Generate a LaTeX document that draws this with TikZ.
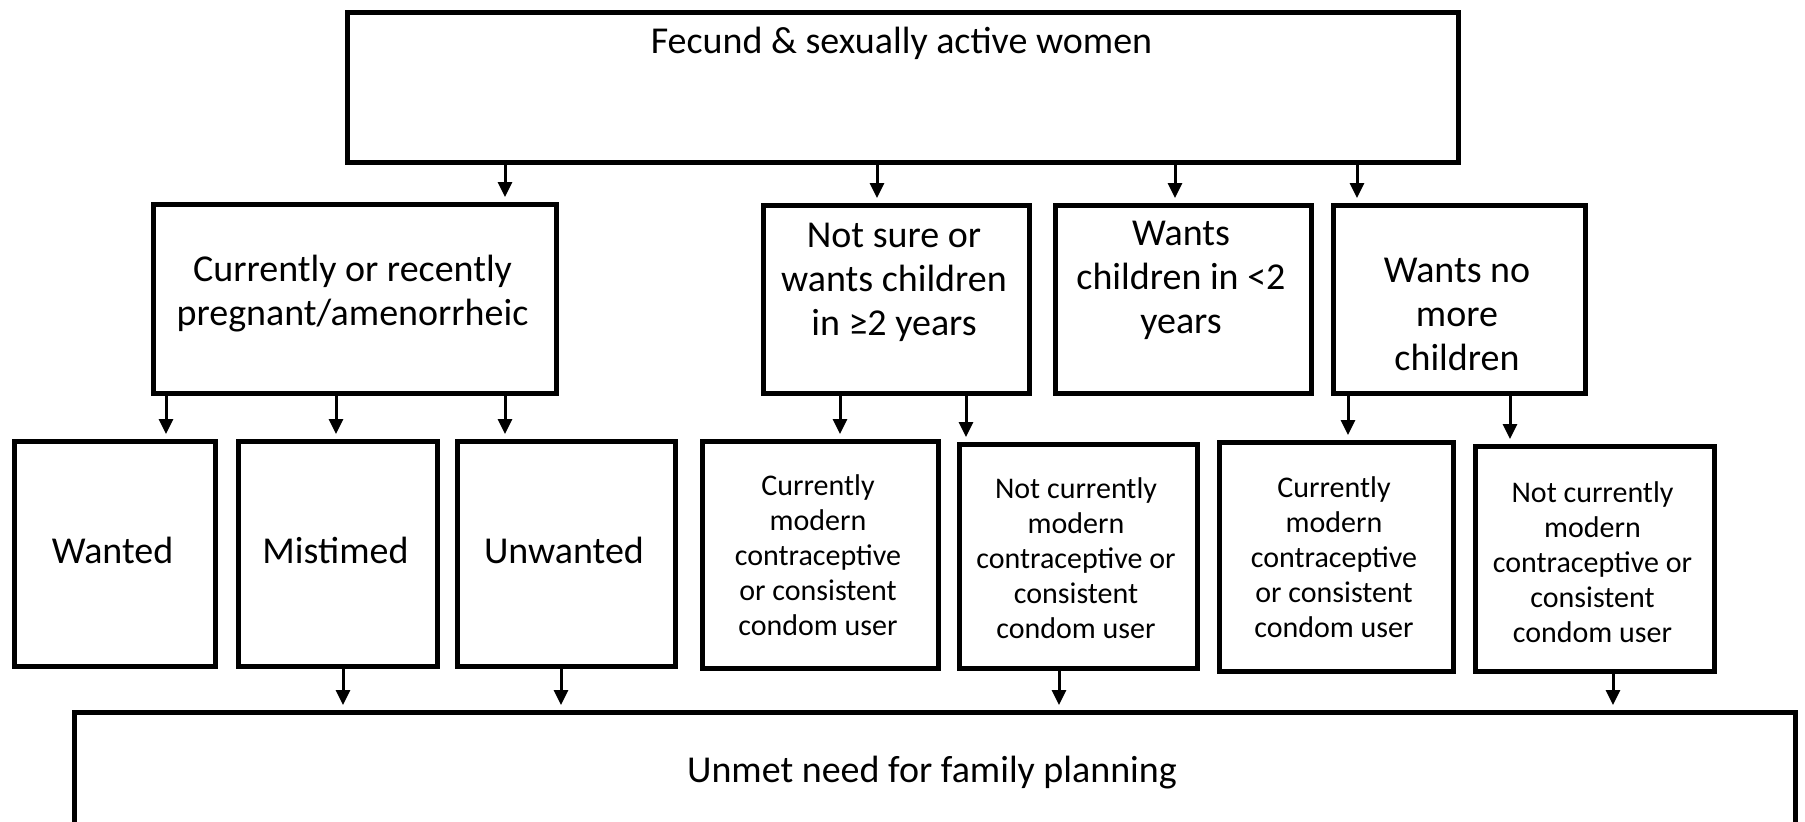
\documentclass[tikz,border=0pt]{standalone}
\usepackage{fontspec}
\setmainfont{Carlito}
\usetikzlibrary{arrows.meta}
\tikzset{
  box/.style={draw, line width=4.8pt, anchor=north west, inner sep=0pt, rectangle},
  arr/.style={line width=3pt, -{Triangle[length=15pt,width=14pt]}, shorten >=5pt},
  txtL/.style={font=\fontsize{38}{44}\selectfont, align=center, inner sep=0pt, anchor=base},
  txtS/.style={font=\fontsize{30}{35}\selectfont, align=center, inner sep=0pt, anchor=base},
}
\begin{document}
\begin{tikzpicture}[x=1pt,y=-1pt]
\useasboundingbox (0,0) rectangle (1805,822);
% boxes
\node[box, minimum width=1111pt, minimum height=150pt] (top) at (345,10) {};
\node[box, minimum width=403pt, minimum height=189pt] (pb) at (151,202) {};
\node[box, minimum width=266pt, minimum height=188pt] (ns) at (761,203) {};
\node[box, minimum width=256pt, minimum height=188pt] (w2) at (1053,203) {};
\node[box, minimum width=252pt, minimum height=188pt] (wn) at (1331,203) {};
\node[box, minimum width=201pt, minimum height=225pt] (wanted) at (12,439) {};
\node[box, minimum width=199pt, minimum height=225pt] (mis) at (236,439) {};
\node[box, minimum width=218pt, minimum height=225pt] (unw) at (455,439) {};
\node[box, minimum width=236pt, minimum height=227pt] (cm1) at (700,439) {};
\node[box, minimum width=238pt, minimum height=224pt] (nc1) at (957,442) {};
\node[box, minimum width=234pt, minimum height=229pt] (cm2) at (1217,440) {};
\node[box, minimum width=239pt, minimum height=225pt] (nc2) at (1473,444) {};
\node[box, minimum width=1721pt, minimum height=115pt] (unmet) at (72,710) {};
% texts (anchor = baseline of last line)
\node[txtL] (ttop) at (901.5,53) {Fecund \& sexually active women};
\node[txtL] (tpb) at (352.5,325) {Currently or recently\\pregnant/amenorrheic};
\node[txtL] (tns) at (894,335) {Not sure or\\wants children\\in ≥2 years};
\node[txtL] (tw2) at (1181,333) {Wants\\children in <2\\years};
\node[txtL] (twn) at (1457,370) {Wants no\\more\\children};
\node[txtL] (twanted) at (112.5,563) {Wanted};
\node[txtL] (tmis) at (335.5,563) {Mistimed};
\node[txtL] (tunw) at (564,563) {Unwanted};
\node[txtS] (tcm1) at (818,635) {Currently\\modern\\contraceptive\\or consistent\\condom user};
\node[txtS] (tnc1) at (1076,638) {Not currently\\modern\\contraceptive or\\consistent\\condom user};
\node[txtS] (tcm2) at (1334,637) {Currently\\modern\\contraceptive\\or consistent\\condom user};
\node[txtS] (tnc2) at (1592.5,642) {Not currently\\modern\\contraceptive or\\consistent\\condom user};
\node[txtL] (tunmet) at (932,782) {Unmet need for family planning};
% arrows
\draw[arr] (505,0 |- top.south) -- (505,0 |- pb.north);
\draw[arr] (877,0 |- top.south) -- (877,0 |- ns.north);
\draw[arr] (1175,0 |- top.south) -- (1175,0 |- w2.north);
\draw[arr] (1357,0 |- top.south) -- (1357,0 |- wn.north);
\draw[arr] (166,0 |- pb.south) -- (166,0 |- wanted.north);
\draw[arr] (336,0 |- pb.south) -- (336,0 |- mis.north);
\draw[arr] (505,0 |- pb.south) -- (505,0 |- unw.north);
\draw[arr] (840,0 |- ns.south) -- (840,0 |- cm1.north);
\draw[arr] (966,0 |- ns.south) -- (966,0 |- nc1.north);
\draw[arr] (1348,0 |- wn.south) -- (1348,0 |- cm2.north);
\draw[arr] (1510,0 |- wn.south) -- (1510,0 |- nc2.north);
\draw[arr] (343,0 |- mis.south) -- (343,0 |- unmet.north);
\draw[arr] (561,0 |- unw.south) -- (561,0 |- unmet.north);
\draw[arr] (1059,0 |- nc1.south) -- (1059,0 |- unmet.north);
\draw[arr] (1613,0 |- nc2.south) -- (1613,0 |- unmet.north);
\end{tikzpicture}
\end{document}
